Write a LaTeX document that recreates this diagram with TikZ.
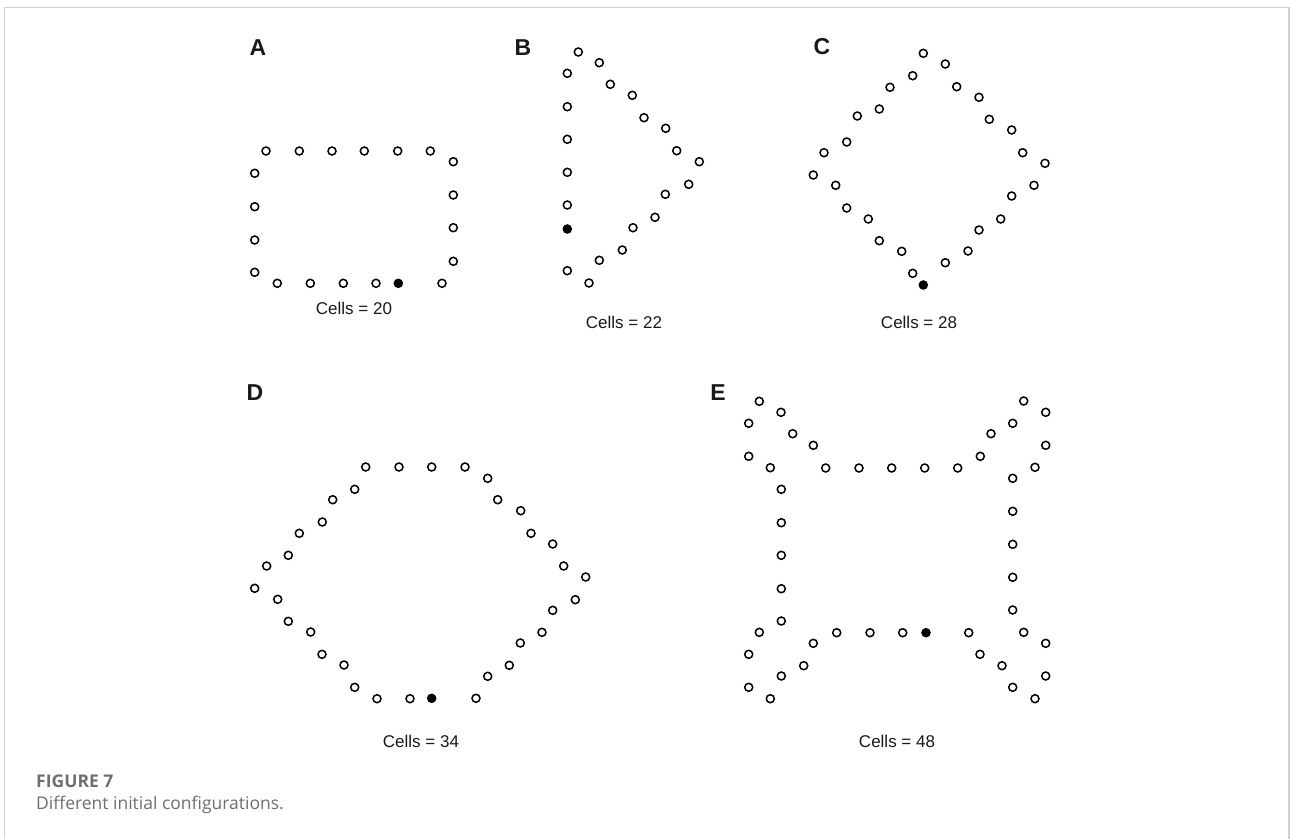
\documentclass[tikz,border=0pt]{standalone}
\usepackage{fontspec}
\setmainfont{Liberation Sans}
\newfontfamily\capfont{Open Sans}
\definecolor{framegray}{HTML}{D0D0D0}
\definecolor{capgray}{HTML}{6E6E6E}
\tikzset{
  cell/.style={circle,draw=black,line width=1.5pt,inner sep=0pt,minimum size=8pt},
  seed/.style={circle,fill=black,inner sep=0pt,minimum size=9.6pt},
  panellabel/.style={font=\fontsize{23}{23}\selectfont\bfseries,text=black!90,inner sep=0pt},
  countlabel/.style={font=\fontsize{17}{18}\selectfont,text=black!90,inner sep=0pt},
}
\begin{document}
\begin{tikzpicture}[x=1pt,y=-1pt]
\useasboundingbox (0,0) rectangle (1290,839);
% frame
\draw[framegray,line width=1.5pt] (4.5,839) -- (4.5,7.5) -- (1289,7.5) -- (1289,839);
% Panel A
\foreach \x/\y [count=\i] in {266/151,299.3/151,332/151,364.3/151,397.7/151,430.3/151,
  453.3/161.7,453.3/195,453.3/227.7,453.3/261.3,
  254.7/173.3,254.7/206.7,254.7/240,254.7/272.3,
  277.3/283.3,310.3/283.3,343.3/283.3,376/283.3,442/283.3}
  \node[cell] (A\i) at (\x,\y) {};
\node[seed] (Aseed) at (398.3,283.3) {};
% Panel B
\foreach \x/\y [count=\i] in {567.3/73.3,567.3/106.7,567.3/139.3,567.3/172.3,567.3/205,567.3/270.7,
  578.3/52,599.3/62.7,610.3/84.3,632.3/95.3,644/117.7,665.7/128.3,676.7/150.7,699.3/161.7,
  688.7/184.3,665.3/194.3,655/217.3,633/227.7,622.3/250,599.3/260.3,589/283}
  \node[cell] (B\i) at (\x,\y) {};
\node[seed] (Bseed) at (567.3,229) {};
% Panel C
\foreach \x/\y [count=\i] in {923.3/53.3,945.3/64,912.7/75.7,890/87.3,956.7/86.7,979/97.3,
  879.3/109,857.3/116,989.3/119.3,1011.7/130,846.7/142,824/152.7,1022.7/152.7,1045/163.3,
  813.3/175,835.7/185.3,1034/185.3,1011.7/196,846.7/208,868.3/219,1000.7/219,979/230,
  879.3/240.7,901.7/251.3,968/251,945.3/262.7,912.7/273.3}
  \node[cell] (C\i) at (\x,\y) {};
\node[seed] (Cseed) at (923.3,285) {};
% Panel D
\foreach \x/\y [count=\i] in {365.7/467,399/467,431.7/467,465/467,487.7/478.3,354.7/489.3,
  332.7/499.7,497.7/499.7,520.7/510.7,322.3/522,299.3/533.3,531/533.3,552.7/544,
  288.3/555.3,266.7/566,563.7/566,585.7/577,254.7/588.3,277.7/599.3,575.3/599.7,
  552.7/610.3,288.3/621.3,310.7/632,542/632.3,520.3/643,322/654.3,344/665,509.3/665.3,
  487.7/676.3,354.7/687.3,377/698.7,410/698.7,476/698.3}
  \node[cell] (D\i) at (\x,\y) {};
\node[seed] (Dseed) at (431.7,698.3) {};
% Panel E
\foreach \x/\y [count=\i] in {759.3/401.3,1023.7/401,781/412.3,1045.7/412.3,748.7/423.3,1012.7/423.3,
  792.7/433.7,991/433.7,813.3/445.3,1045.7/445.3,748.7/456.3,980.3/456.3,770.3/467.7,
  825.7/468,859/468,891.7/468,924.7/468,957.7/468,1035/467.3,1012.7/478.3,
  781.3/489.3,1012.7/511.3,781.3/522.7,1012.7/544.3,781.3/555.3,1012.7/577.3,
  781.3/588.7,1012.7/610,781.3/621,759.3/632.3,836.7/632.7,870/632.7,902.7/632.7,
  968.7/632.7,1023.7/632.3,813.3/643.3,1045.7/643.3,748.7/654.3,980/654.3,
  803.7/665.7,1002/665.7,781.3/676,1045.7/676,748.7/687.3,1012.7/687.3,770.3/698.7,1035/698.7}
  \node[cell] (E\i) at (\x,\y) {};
\node[seed] (Eseed) at (926,632.7) {};
% labels
\node[panellabel] (labA) at (258,48) {A};
\node[panellabel] (labB) at (523,48) {B};
\node[panellabel] (labC) at (822,47) {C};
\node[panellabel] (labD) at (255,393) {D};
\node[panellabel] (labE) at (718,393) {E};
\node[countlabel] (cntA) at (354,308) {Cells = 20};
\node[countlabel] (cntB) at (624,322) {Cells = 22};
\node[countlabel] (cntC) at (919,322) {Cells = 28};
\node[countlabel] (cntD) at (421,741) {Cells = 34};
\node[countlabel] (cntE) at (897,741) {Cells = 48};
% caption
\node[anchor=base west,inner sep=0pt,text=capgray,font=\capfont\fontsize{17.5}{18}\selectfont\bfseries] (fig) at (36,787) {FIGURE 7};
\node[anchor=base west,inner sep=0pt,text=capgray,font=\capfont\fontsize{17.5}{18}\selectfont] (capt) at (36,809) {Different initial configurations.};
\end{tikzpicture}
\end{document}
